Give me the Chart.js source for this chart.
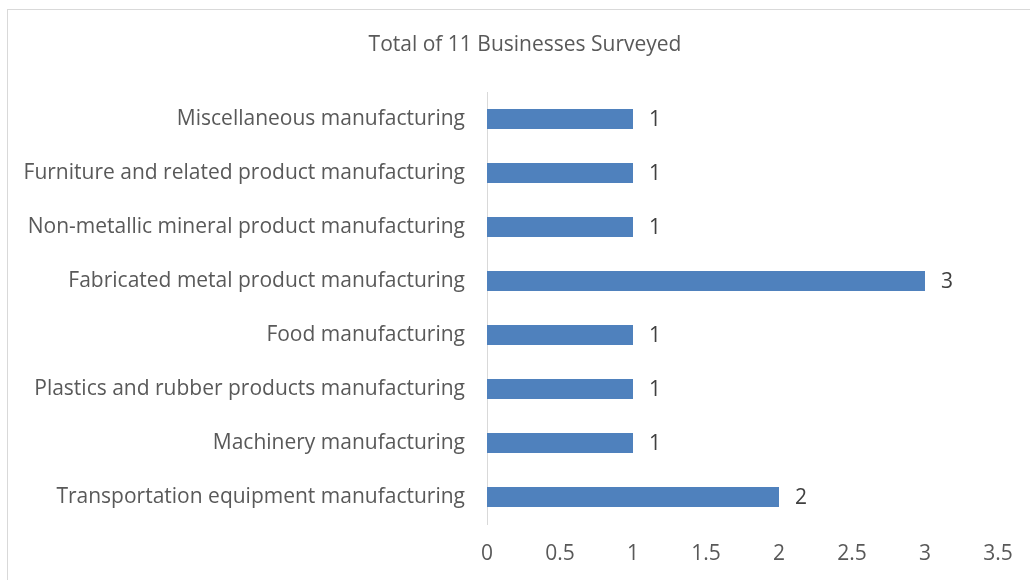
<!DOCTYPE html>
<html>
<head>
<meta charset="utf-8">
<script src="https://cdn.jsdelivr.net/npm/chart.js@4"></script>
<style>
  html, body { margin: 0; padding: 0; background: #fff; overflow: hidden; }
  #wrap { position: relative; width: 1030px; height: 580px; }
  #frame { position: absolute; left: 7px; top: 9px; width: 1040px; height: 600px; border: 1px solid #d9d9d9; box-sizing: border-box; }
  canvas { position: absolute; left: 0; top: 0; }
</style>
</head>
<body>
<div id="wrap">
  <div id="frame"></div>
  <canvas id="myChart" width="1030" height="580"></canvas>
</div>
<script>
const categories = [
  'Miscellaneous manufacturing',
  'Furniture and related product manufacturing',
  'Non-metallic mineral product manufacturing',
  'Fabricated metal product manufacturing',
  'Food manufacturing',
  'Plastics and rubber products manufacturing',
  'Machinery manufacturing',
  'Transportation equipment manufacturing'
]
const businesses = [1, 1, 1, 3, 1, 1, 1, 2]
const chartTitle = 'Total of 11 Businesses Surveyed'

const fontFam = '"Open Sans", sans-serif'

// title + value labels drawn by hand
const extras = {
  id: 'extras',
  afterDatasetsDraw(chart) {
    const c = chart.ctx
    c.save()
    c.fillStyle = '#595959'
    c.font = '21px ' + fontFam
    c.textAlign = 'center'
    c.textBaseline = 'middle'
    c.fillText(chartTitle, 525, 45)
    c.fillStyle = '#404040'
    c.textAlign = 'left'
    chart.getDatasetMeta(0).data.forEach((bar, i) => {
      c.fillText(String(businesses[i]), bar.x + 16, bar.y + 1)
    })
    c.restore()
  }
}

const ctx = document.getElementById('myChart')

new Chart(ctx, {
  type: 'bar',
  data: {
    labels: categories,
    datasets: [{
      label: 'Businesses',
      data: businesses,
      backgroundColor: '#4f81bd',
      categoryPercentage: 0.37,
      barPercentage: 1
    }]
  },
  options: {
    indexAxis: 'y',
    responsive: false,
    animation: false,
    layout: { padding: { top: 92, right: 32, left: 0, bottom: 0 } },
    plugins: {
      legend: { display: false },
      tooltip: { enabled: false }
    },
    scales: {
      x: {
        min: 0,
        max: 3.5,
        ticks: {
          stepSize: 0.5,
          color: '#595959',
          font: { size: 21, family: fontFam },
          padding: 17,
          callback: v => String(v)
        },
        grid: { display: false, drawTicks: false },
        border: { display: false },
        afterFit(scale) { scale.height = 56 }
      },
      y: {
        ticks: { color: '#595959', font: { size: 21, family: fontFam }, padding: 22 },
        grid: { display: false, drawTicks: false },
        border: { display: true, color: '#d9d9d9', width: 1 },
        afterFit(scale) { scale.width = 487 }
      }
    }
  },
  plugins: [extras]
})
</script>
</body>
</html>
